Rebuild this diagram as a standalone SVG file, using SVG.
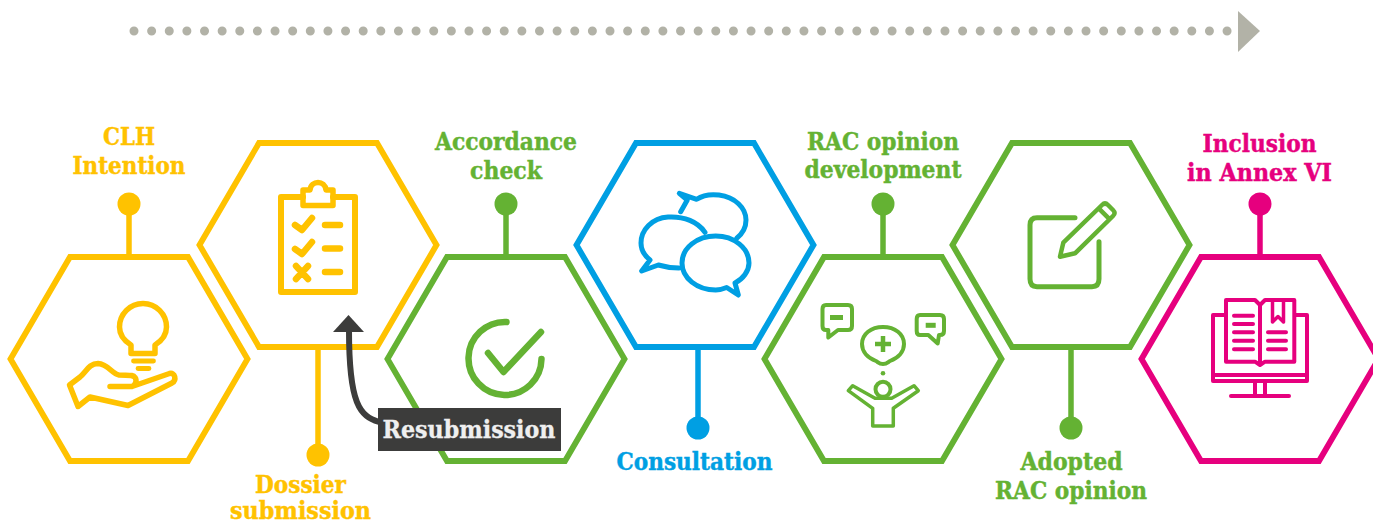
<svg xmlns="http://www.w3.org/2000/svg" width="1373" height="525" viewBox="0 0 1373 525">
<style>
.y{--c:#FFC200}.g{--c:#64B233}.b{--c:#009FE3}.p{--c:#E6007E}
.hex{fill:#fff;stroke:var(--c);stroke-width:5.800;stroke-linejoin:miter;stroke-miterlimit:1.500}
.ic{fill:none;stroke:var(--c);stroke-width:5.500;stroke-linejoin:round;stroke-linecap:round}
.fill{fill:var(--c);stroke:none}
.stem{stroke:var(--c);stroke-width:5.500;fill:none}
.lb{fill:var(--c);stroke:var(--c);stroke-width:.4px;font-family:"DejaVu Serif Condensed","DejaVu Serif",serif;font-weight:700;font-size:23.500px;text-anchor:middle}
</style>
<defs>
<polygon id="hx" points="-118.500,0 -59,-102 59,-102 118.500,0 59,102 -59,102"/>
</defs>
<g id="connectors">
<line x1="134" y1="31" x2="1230" y2="31" stroke="#B2B2A7" stroke-width="9" stroke-linecap="round" stroke-dasharray="0 17.630"/>
<polygon points="1238,11 1260,31 1238,52" fill="#B2B2A7"/>
<g class="y"><line class="stem" x1="129" y1="204" x2="129" y2="257"/><circle class="fill" cx="129" cy="204" r="11.500"/><line class="stem" x1="318" y1="347" x2="318" y2="455"/><circle class="fill" cx="318" cy="455" r="11.500"/></g>
<g class="g"><line class="stem" x1="506" y1="204" x2="506" y2="257"/><circle class="fill" cx="506" cy="204" r="11.500"/></g>
<g class="b"><line class="stem" x1="698" y1="347" x2="698" y2="428"/><circle class="fill" cx="698" cy="428" r="11.500"/></g>
<g class="g"><line class="stem" x1="883" y1="204" x2="883" y2="257"/><circle class="fill" cx="883" cy="204" r="11.500"/><line class="stem" x1="1071" y1="347" x2="1071" y2="428"/><circle class="fill" cx="1071" cy="428" r="11.500"/></g>
<g class="p"><line class="stem" x1="1260" y1="204" x2="1260" y2="257"/><circle class="fill" cx="1260" cy="204" r="11.500"/></g>
</g>
<g id="node-clh" class="y">
<use href="#hx" class="hex" x="129" y="359"/>
<path class="ic" d="M131 349V345C123 340 119.500 334 119.500 327A23.500 23.500 0 0 1 166.500 327C166.500 334 163 340 155 345V349V353.500H131Z"/>
<path class="ic" style="stroke-width:4.800" d="M133.500 361H153.500M138 368.500H149"/>
<path class="ic" d="M110 386.500H132C136 385 137 380 135 377.500C133 374.500 129 375.500 119 375C112 374 108 364 98 363.500C89 363.500 86 372 80 377L69.500 385L78 406.500L90 397L128 405.500L172 383C177 380 175 372 169.500 373.500L132 386.500"/>
<text class="lb" x="129" y="145" textLength="52" lengthAdjust="spacingAndGlyphs">CLH</text>
<text class="lb" x="129" y="174" textLength="113" lengthAdjust="spacingAndGlyphs">Intention</text>
</g>
<g id="node-dossier" class="y">
<use href="#hx" class="hex" x="318" y="245"/>
<path class="ic" style="stroke-width:6" d="M303 197H281V292H355V197H333"/>
<path class="ic" d="M303 205.500V190H310C311 180 325 180 326 190H333V205.500Z"/>
<path class="ic" style="stroke-width:6.500" d="M295 225L302 230L312 218M295 249L302 254L312 242M296 266L308 279M308 266L296 279M325 225H340M325 248.500H340M325 272H340"/>
<text class="lb" x="300.500" y="493" textLength="91" lengthAdjust="spacingAndGlyphs">Dossier</text>
<text class="lb" x="300.500" y="519" textLength="141" lengthAdjust="spacingAndGlyphs">submission</text>
</g>
<g id="node-accordance" class="g">
<use href="#hx" class="hex" x="506" y="359"/>
<path class="ic" style="stroke-width:6.500" d="M506.500 322A36.500 36.500 0 1 0 541.500 359M488 353L503.500 372L541 332"/>
<text class="lb" x="506" y="150" textLength="142" lengthAdjust="spacingAndGlyphs">Accordance</text>
<text class="lb" x="506" y="178.500" textLength="72" lengthAdjust="spacingAndGlyphs">check</text>
</g>
<g id="node-consultation" class="b">
<use href="#hx" class="hex" x="695" y="245"/>
<path class="ic" style="stroke-width:5" d="M705 232.300C698 222 684 216 668 217C652 218 641 230 641 243C641 250 645 256 650 260L641.700 271L658.300 265C665 267 672 268 679 268"/>
<path class="ic" style="stroke-width:5" d="M680.700 211.700L687.300 200L679.300 193.300L696.700 199.300C703 195 711 194 719 195C735 197 746 208 746 220C746 228 742 234 736.700 238.300"/>
<path class="ic" style="stroke-width:5" d="M726.700 287.500L738.300 295L735 283C743 279 749 271 749 263C749 248 734 236 715.700 236C697 236 682 248 682 263C682 278 697 290 715.700 290C719 290 723 289 726.700 287.500Z"/>
<text class="lb" x="694.500" y="470" textLength="156" lengthAdjust="spacingAndGlyphs">Consultation</text>
</g>
<g id="node-rac-dev" class="g">
<use href="#hx" class="hex" x="883" y="359"/>
<path class="ic" style="stroke-width:4" d="M826 305H848Q852 305 852 309V326Q852 330 848 330H838L828.300 337.500V330H826Q822.500 330 822.500 326V309Q822.500 305 826 305Z"/>
<path class="ic" style="stroke-width:5;stroke-linecap:butt" d="M830 317.500H843"/>
<path class="ic" style="stroke-width:4" d="M920 315H940Q944 315 944 319V331Q944 335 940 335H939L937.700 343.500L928.300 335H920Q916.700 335 916.700 331V319Q916.700 315 920 315Z"/>
<path class="ic" style="stroke-width:5;stroke-linecap:butt" d="M925.700 325.300H935.700"/>
<path class="ic" style="stroke-width:4" d="M876 361C868 358 862 352 862 344C862 334 871 327 883 327C895 327 904 334 904 344C904 352 898 358 890 361C888 362 887 364 883 364C879 364 878 362 876 361Z"/>
<path class="ic" style="stroke-width:4.500;stroke-linecap:butt" d="M883 336V352M875 344H891"/>
<circle class="fill" cx="883" cy="373.300" r="2.300"/>
<circle class="ic" style="stroke-width:4" cx="883" cy="389.300" r="7.500"/>
<path class="ic" style="stroke-width:3.500" d="M848.300 390.700L852.700 385.700L875 398.300H891.700L914 385.700L918.300 390.700L893.300 408.300V426H872.700V408.300Z"/>
<text class="lb" x="883" y="150" textLength="152" lengthAdjust="spacingAndGlyphs">RAC opinion</text>
<text class="lb" x="883" y="178" textLength="157" lengthAdjust="spacingAndGlyphs">development</text>
</g>
<g id="node-rac-adopted" class="g">
<use href="#hx" class="hex" x="1071" y="245"/>
<path class="ic" style="stroke-width:5" d="M1075 217.700H1037Q1030 217.700 1030 225V279Q1030 286.700 1037 286.700H1092Q1099 286.700 1099 279V241.700"/>
<path class="ic" style="stroke-width:4.500" d="M1060 256.700L1063.300 242.700L1102 205Q1105 202 1108 205L1113 210Q1116 213 1113 216L1075 253.300ZM1098.700 208.300L1109 218.700"/>
<text class="lb" x="1071.500" y="470" textLength="102" lengthAdjust="spacingAndGlyphs">Adopted</text>
<text class="lb" x="1071" y="499" textLength="152" lengthAdjust="spacingAndGlyphs">RAC opinion</text>
</g>
<g id="node-annex" class="p">
<use href="#hx" class="hex" x="1260" y="359"/>
<path class="ic" style="stroke-width:4;stroke-linecap:butt" d="M1226 315H1213V381H1307V315H1294.300M1213 375H1307M1255 382V396M1265 382V396"/>
<path class="ic" style="stroke-width:4" d="M1231 396H1289"/>
<path class="ic" style="stroke-width:4" d="M1260 305L1255 300H1226V361.700H1255L1260 365L1265 361.700H1294.300V300H1265ZM1260 305V362"/>
<path class="ic" style="stroke-width:4" d="M1234 315.700H1253M1234 324H1253M1234 332.300H1253M1234 340.700H1253M1234 349.300H1253M1268 332.300H1286M1268 340.700H1286M1268 349.300H1286"/>
<path class="ic" style="stroke-width:3.500" d="M1272.500 300V322L1278 316.500L1283.500 322V300"/>
<text class="lb" x="1259.500" y="152" textLength="114" lengthAdjust="spacingAndGlyphs">Inclusion</text>
<text class="lb" x="1259.500" y="180.500" textLength="145" lengthAdjust="spacingAndGlyphs">in Annex VI</text>
</g>
<g id="connector-resubmission">
<path d="M379 422C360 416 349 405 349 330" fill="none" stroke="#3C3C3B" stroke-width="6"/>
<polygon points="348.500,315 333,332 364,332" fill="#3C3C3B"/>
</g>
<g id="node-resubmission">
<rect x="378" y="408" width="183" height="43" fill="#3C3C3B"/>
<text x="469" y="438" text-anchor="middle" fill="#EFEFEF" stroke="#EFEFEF" stroke-width=".3" font-family="'DejaVu Serif Condensed','DejaVu Serif',serif" font-weight="700" font-size="24.500" textLength="173" lengthAdjust="spacingAndGlyphs">Resubmission</text>
</g>
</svg>
